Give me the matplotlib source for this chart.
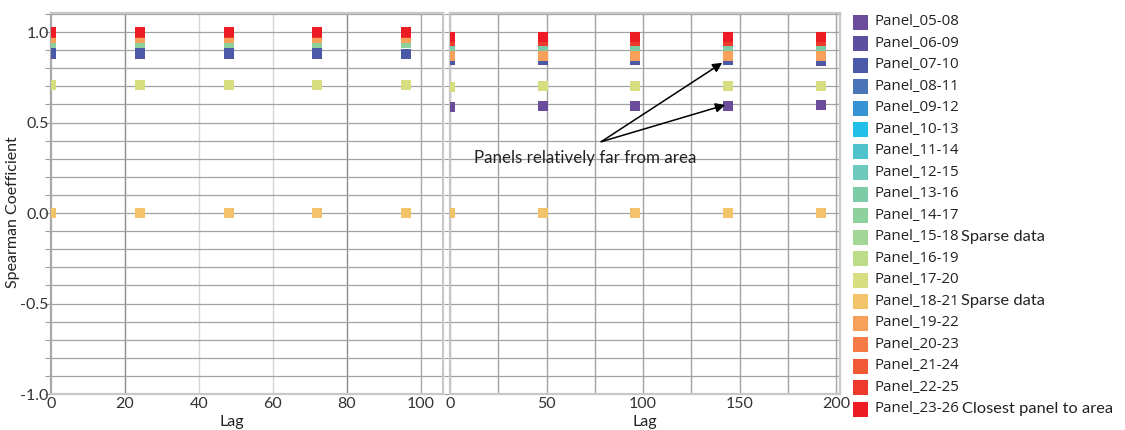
import matplotlib
matplotlib.use("Agg")
import matplotlib.pyplot as plt
from matplotlib.ticker import MultipleLocator

# ---- data -----------------------------------------------------------------
panels = ["Panel_05-08", "Panel_06-09", "Panel_07-10", "Panel_08-11", "Panel_09-12",
          "Panel_10-13", "Panel_11-14", "Panel_12-15", "Panel_13-16", "Panel_14-17",
          "Panel_15-18", "Panel_16-19", "Panel_17-20", "Panel_18-21", "Panel_19-22",
          "Panel_20-23", "Panel_21-24", "Panel_22-25", "Panel_23-26"]

panel_colors = ["#6b4c9a", "#5c4fa0", "#4b5aa8", "#4a74b8", "#3793d4",
                "#22c0e8", "#4fc2cc", "#6cc9bc", "#7ecba8", "#8fd19c",
                "#a3d596", "#bcdc8a", "#d7de7f", "#f3c36a", "#f7a05a",
                "#f47b45", "#f05a35", "#ee3a2c", "#ed1c24"]

panel_notes = {"Panel_15-18": "Sparse data",
               "Panel_18-21": "Sparse data",
               "Panel_23-26": "Closest panel to area"}

# short-range lags (left) and long-range lags (right)
lags_short = [0, 24, 48, 72, 96]
lags_long = [0, 48, 96, 144, 192]

# Spearman coefficient per panel (same order as `panels`)
rho_short = [
    [0.877, 0.877, 0.877, 0.877, 0.876],
    [0.879, 0.879, 0.879, 0.879, 0.878],
    [0.882, 0.882, 0.882, 0.882, 0.881],
    [0.938, 0.938, 0.938, 0.938, 0.938],
    [0.938, 0.938, 0.938, 0.938, 0.938],
    [0.938, 0.938, 0.938, 0.938, 0.938],
    [0.938, 0.938, 0.938, 0.938, 0.938],
    [0.938, 0.938, 0.938, 0.938, 0.938],
    [0.938, 0.938, 0.938, 0.938, 0.938],
    [0.938, 0.938, 0.938, 0.938, 0.938],
    [0.0, 0.0, 0.0, 0.0, 0.0],
    [0.965, 0.965, 0.965, 0.965, 0.965],
    [0.705, 0.705, 0.705, 0.705, 0.707],
    [0.0, 0.0, 0.0, 0.0, 0.0],
    [0.965, 0.965, 0.965, 0.965, 0.965],
    [0.995, 0.995, 0.995, 0.995, 0.995],
    [0.995, 0.995, 0.995, 0.995, 0.995],
    [0.993, 0.993, 0.993, 0.993, 0.993],
    [0.998, 0.998, 0.998, 0.998, 0.998],
]

rho_long = [
    [0.587, 0.590, 0.590, 0.592, 0.595],
    [0.846, 0.846, 0.846, 0.844, 0.842],
    [0.850, 0.850, 0.850, 0.848, 0.846],
    [0.905, 0.905, 0.905, 0.905, 0.905],
    [0.905, 0.905, 0.905, 0.905, 0.905],
    [0.905, 0.905, 0.905, 0.905, 0.905],
    [0.905, 0.905, 0.905, 0.905, 0.905],
    [0.905, 0.905, 0.905, 0.905, 0.905],
    [0.905, 0.905, 0.905, 0.905, 0.905],
    [0.870, 0.870, 0.870, 0.870, 0.870],
    [0.0, 0.0, 0.0, 0.0, 0.0],
    [0.870, 0.870, 0.870, 0.870, 0.870],
    [0.696, 0.700, 0.700, 0.700, 0.704],
    [0.0, 0.0, 0.0, 0.0, 0.0],
    [0.870, 0.870, 0.870, 0.870, 0.870],
    [0.965, 0.965, 0.965, 0.965, 0.965],
    [0.965, 0.965, 0.965, 0.965, 0.965],
    [0.952, 0.952, 0.952, 0.952, 0.952],
    [0.975, 0.975, 0.975, 0.975, 0.975],
]

# ---- figure ---------------------------------------------------------------
W, H = 1125, 430
fig = plt.figure(figsize=(W / 100, H / 100), dpi=100)
fig.patch.set_facecolor("white")


def px_axes(x0, y0, x1, y1):
    return fig.add_axes([x0 / W, 1 - y1 / H, (x1 - x0) / W, (y1 - y0) / H])


LABEL_FONT = "Lato"
TICK_SIZE = 11.5
TICK_COLOR = "#333333"
GRID_COLOR = "#a3a3a3"

ax1 = px_axes(51, 12.5, 443, 394)
ax2 = px_axes(450, 12.5, 840, 394)

for ax in (ax1, ax2):
    ax.set_ylim(-1.0, 1.108)
    ax.yaxis.set_major_locator(MultipleLocator(0.5))
    ax.yaxis.set_minor_locator(MultipleLocator(0.1))
    ax.grid(axis="y", which="both", color=GRID_COLOR, lw=0.9, zorder=0)
    ax.set_axisbelow(True)
    for s in ax.spines.values():
        s.set_color("#c8c8c8")
        s.set_linewidth(1.6)
    ax.tick_params(axis="y", which="both", direction="out", length=4.3,
                   color="#a0a0a0", width=0.8, pad=-2.6,
                   labelsize=TICK_SIZE, labelcolor=TICK_COLOR)
    ax.tick_params(axis="x", length=0, pad=2.0, labelsize=TICK_SIZE,
                   labelcolor=TICK_COLOR)

ax1.spines["left"].set_color("#a8a8a8")

# left panel: lags up to ~100
ax1.set_xlim(0, 106)
ax1.set_xticks([0, 20, 40, 60, 80, 100])
vgrid_shades = {20: "#8a8a8a", 40: "#d6d6d6", 60: "#d6d6d6", 80: "#8a8a8a", 100: "#a8a8a8"}
for xv, c in vgrid_shades.items():
    ax1.axvline(xv, color=c, lw=1.0, zorder=0)
ax1.set_yticks([-1.0, -0.5, 0.0, 0.5, 1.0])
ax1.set_yticklabels(["-1.0", "-0.5", "0.0", "0.5", "1.0"], family=LABEL_FONT)
ax1.set_xticklabels(["0", "20", "40", "60", "80", "100"], family=LABEL_FONT)

# right panel: lags up to ~200
ax2.set_xlim(0, 202)
ax2.set_xticks([0, 50, 100, 150, 200])
ax2.set_xticklabels(["0", "50", "100", "150", "200"], family=LABEL_FONT)
ax2.xaxis.set_minor_locator(MultipleLocator(25))
ax2.grid(axis="x", which="both", color=GRID_COLOR, lw=1.0, zorder=0)
ax2.tick_params(axis="x", which="minor", length=0)
ax2.tick_params(axis="y", which="both", labelleft=False)

# scatter points, one series per panel, drawn in panel order
MS = 7.2
for vals, col in zip(rho_short, panel_colors):
    ax1.plot(lags_short, vals, "s", ms=MS, color=col, mew=0, zorder=3)
for vals, col in zip(rho_long, panel_colors):
    ax2.plot(lags_long, vals, "s", ms=MS, color=col, mew=0, zorder=3)

# axis labels
ax1.set_ylabel("Spearman Coefficient", family=LABEL_FONT, fontsize=11.5, color="#222222")
ax1.yaxis.set_label_coords(-0.079, 0.477)
ax1.set_xlabel("Lag", family=LABEL_FONT, fontsize=11.5, color="#222222")
ax1.xaxis.set_label_coords(0.462, -0.055)
ax2.set_xlabel("Lag", family=LABEL_FONT, fontsize=11.5, color="#222222")
ax2.xaxis.set_label_coords(0.5, -0.055)

# annotation pointing at the far panels
ax2.text(12.6, 0.304, "Panels relatively far from area", family=LABEL_FONT,
         fontsize=12.2, color="#222222", ha="left", va="center", zorder=5)
arrow_kw = dict(arrowstyle="-|>", color="black", lw=1.1, mutation_scale=14,
                shrinkA=0, shrinkB=0)
ax2.annotate("", xy=(141.0, 0.830), xytext=(78.3, 0.394), arrowprops=arrow_kw, zorder=5)
ax2.annotate("", xy=(142.5, 0.597), xytext=(78.3, 0.394), arrowprops=arrow_kw, zorder=5)

# legend column
axL = px_axes(845, 0, 1125, 430)
axL.set_xlim(845, 1125)
axL.set_ylim(430, 0)
axL.axis("off")
row0, row_step = 21.7, 21.5
for i, (name, col) in enumerate(zip(panels, panel_colors)):
    y = row0 + row_step * i
    axL.plot([860], [y], "s", ms=10.8, color=col, mew=0)
    t = axL.text(874, y, name, family="Open Sans", fontsize=10.8,
                 color="#222222", ha="left", va="center")
    if name in panel_notes:
        axL.annotate(panel_notes[name], xy=(1, 0.5), xycoords=t,
                     xytext=(2, 0), textcoords="offset points",
                     family=LABEL_FONT, fontsize=11.8, color="#222222",
                     ha="left", va="center")

fig.savefig("out.png", dpi=100)
